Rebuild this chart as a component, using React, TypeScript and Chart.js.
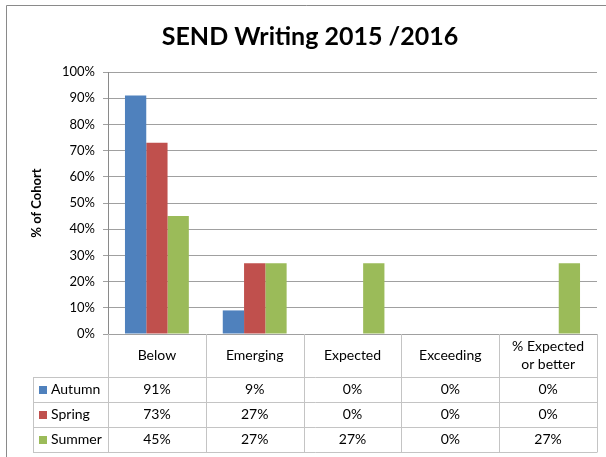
import { useEffect, useRef } from "react";
import { Chart, registerables } from "chart.js";
Chart.register(...registerables);

const categories: string[][] = [["Below"], ["Emerging"], ["Expected"], ["Exceeding"], ["% Expected", "or better"]];
const seriesNames = ["Autumn", "Spring", "Summer"];
const autumn = [91, 9, 0, 0, 0];
const spring = [73, 27, 0, 0, 0];
const summer = [45, 27, 27, 0, 27];
const seriesColors = ["#4F81BD", "#C0504D", "#9BBB59"];
const yMin = 0;
const yMax = 100;
const yStep = 10;

const FONT = "Lato, 'Open Sans', sans-serif";

const framePlugin = {
  id: "frame",
  beforeDraw(chart: any) {
    const { ctx } = chart;
    ctx.save();
    ctx.strokeStyle = "#8a8a8a";
    ctx.lineWidth = 1;
    ctx.beginPath();
    ctx.moveTo(6.5, 457);
    ctx.lineTo(6.5, 5.5);
    ctx.lineTo(606, 5.5);
    ctx.stroke();
    ctx.restore();
  },
};

const tablePlugin = {
  id: "dataTable",
  afterDraw(chart: any) {
    const { ctx, chartArea } = chart;
    const x = chart.scales.x;
    const n = categories.length;
    const left = chartArea.left;
    const right = chartArea.right;
    const cw = (right - left) / n;
    const top = chartArea.bottom;
    const headerH = 43;
    const rowH = 25;
    const legendLeft = 33;
    const bottom = top + headerH + rowH * seriesNames.length;
    const px = (v: number) => Math.round(v) + 0.5;
    ctx.save();
    ctx.strokeStyle = "#c4c4c4";
    ctx.lineWidth = 1;
    ctx.beginPath();
    for (let r = 0; r <= seriesNames.length; r++) {
      const y = px(top + headerH + r * rowH);
      ctx.moveTo(legendLeft, y);
      ctx.lineTo(px(right), y);
    }
    for (let i = 0; i <= n; i++) {
      const xx = px(left + i * cw);
      ctx.moveTo(xx, top);
      ctx.lineTo(xx, bottom);
    }
    ctx.moveTo(px(legendLeft), top + headerH);
    ctx.lineTo(px(legendLeft), bottom);
    ctx.stroke();

    ctx.fillStyle = "#000";
    ctx.textAlign = "center";
    ctx.textBaseline = "middle";
    ctx.font = `14px ${FONT}`;
    for (let i = 0; i < n; i++) {
      const cx = x.getPixelForValue(i);
      const lines = categories[i];
      const lh = 18;
      const cy = top + headerH / 2;
      lines.forEach((ln, k) => {
        ctx.fillText(ln, cx, cy + (k - (lines.length - 1) / 2) * lh);
      });
    }
    chart.data.datasets.forEach((ds: any, r: number) => {
      const cy = top + headerH + r * rowH + rowH / 2;
      ctx.fillStyle = ds.backgroundColor;
      ctx.fillRect(legendLeft + 6, Math.round(cy - 4), 8, 8);
      ctx.fillStyle = "#000";
      ctx.textAlign = "left";
      ctx.fillText(ds.label, legendLeft + 18, cy);
      ctx.textAlign = "center";
      ds.data.forEach((v: number, i: number) => {
        ctx.fillText(`${v}%`, x.getPixelForValue(i), cy);
      });
    });
    ctx.restore();
  },
};

export default function App() {
  const ref = useRef<HTMLCanvasElement>(null);
  useEffect(() => {
    if (!ref.current) return;
    const values = [autumn, spring, summer];
    const chart = new Chart(ref.current, {
      type: "bar",
      data: {
        labels: categories.map((c) => c.join(" ")),
        datasets: seriesNames.map((name, i) => ({
          label: name,
          data: values[i],
          backgroundColor: seriesColors[i],
          borderWidth: 0,
          barPercentage: 1,
          categoryPercentage: 0.653,
          yAxisID: "y",
        })),
      },
      options: {
        responsive: false,
        animation: false,
        layout: { padding: { left: 14, right: 0, top: 0, bottom: 123 } },
        plugins: {
          legend: { display: false },
          tooltip: { enabled: false },
          title: {
            display: true,
            text: "SEND Writing 2015 /2016",
            color: "#000",
            font: { family: FONT, size: 25, weight: "bold" },
            padding: { top: 22, bottom: 20 },
          },
        },
        scales: {
          x: { display: false },
          y: {
            min: yMin,
            max: yMax,
            afterFit: (s: any) => {
              s.width = 94;
            },
            ticks: {
              stepSize: yStep,
              padding: 8,
              color: "#000",
              font: { family: FONT, size: 13 },
              callback: (v: any) => `${v}%`,
            },
            grid: { color: "#a0a0a0", tickLength: 5, lineWidth: 1 },
            border: { display: true, color: "#8a8a8a" },
            title: {
              display: true,
              text: "% of Cohort",
              color: "#000",
              font: { family: FONT, size: 13, weight: "bold" },
              padding: { top: 15, bottom: 0 },
            },
          },
          y2: {
            position: "right",
            min: 0,
            max: 1,
            afterFit: (s: any) => {
              s.width = 9;
            },
            ticks: { display: false },
            grid: { display: false, drawTicks: false },
            border: { display: false },
          },
        },
      },
      plugins: [framePlugin, tablePlugin],
    });
    return () => chart.destroy();
  }, []);
  return (
    <div style={{ position: "fixed", left: 0, top: 0, width: 606, height: 457, background: "#fff" }}>
      <canvas ref={ref} width={606} height={457} style={{ display: "block" }} />
    </div>
  );
}
